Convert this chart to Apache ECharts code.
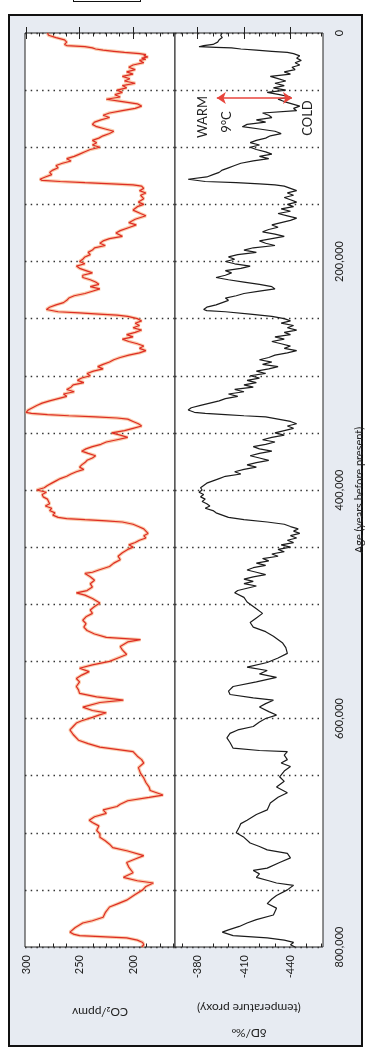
<!DOCTYPE html>
<html><head><meta charset="utf-8">
<script src="https://cdn.jsdelivr.net/npm/echarts@6/dist/echarts.min.js"></script>
<style>
html,body{margin:0;padding:0;background:#fff;}
#frame{position:absolute;left:8px;top:14px;width:351px;height:1029px;border:2.5px solid #111;background:#e7ebf2;}
#tab{position:absolute;left:73px;top:-10px;width:66px;height:10px;border:1.5px solid #111;}
#c{position:absolute;left:0;top:0;width:368px;height:1057px;}
</style>
</head><body>
<div id="frame"></div><div id="tab"></div>
<div id="c"></div>
<script>
// ---- data (age in thousand years before present) ----
const co2Series = [
[0,280],[2,279],[4,272],[6,264],[8,262],[10,264],[11,262],[12,245],[13,238],[14,235],[15,228],[16,218],[17,208],[18,194],[19,188],[20,190],[21,186],[22,192],[23,188],[24,194],[26,190],[28,200],[30,204],[32,198],[34,206],[36,200],[38,210],[40,203],[42,208],[44,198],[46,210],[48,206],[50,215],[52,210],[54,217],[56,212],[58,225],[60,210],[62,196],[64,192],[66,198],[68,210],[70,222],[72,228],[74,222],[76,230],[78,236],[80,238],[82,234],[84,226],[86,218],[88,222],[90,228],[92,232],[94,238],[96,234],[98,238],[100,231],[102,240],[104,245],[106,250],[108,255],[110,262],[112,258],[114,266],[116,272],[118,270],[120,275],[122,278],[124,276],[126,282],[128,287],[129,285],[130,268],[131,245],[132,220],[133,200],[134,192],[136,190],[138,194],[140,188],[142,193],[145,190],[148,195],[150,190],[152,196],[155,200],[158,193],[160,188],[163,198],[166,204],[168,197],[170,203],[173,212],[175,216],[178,210],[180,222],[182,228],[184,231],[186,226],[188,236],[190,238],[192,242],[194,240],[196,245],[198,247],[200,250],[202,245],[204,253],[206,250],[208,244],[210,238],[212,247],[214,247],[216,240],[218,235],[220,232],[222,240],[224,231],[226,238],[228,245],[230,255],[232,260],[234,262],[236,265],[238,272],[240,278],[242,281],[243,280],[244,270],[245,250],[246,232],[247,215],[248,205],[250,196],[252,192],[254,198],[256,194],[258,200],[260,192],[262,198],[264,206],[266,200],[268,210],[270,204],[272,196],[274,190],[276,194],[278,188],[280,194],[282,204],[284,212],[286,218],[288,222],[290,228],[292,233],[294,228],[296,237],[298,243],[300,240],[302,248],[304,252],[306,246],[308,256],[310,258],[312,262],[314,255],[316,265],[318,262],[320,270],[322,278],[324,285],[326,290],[328,294],[330,298],[332,300],[333,295],[334,280],[335,260],[336,235],[337,215],[338,205],[340,200],[342,195],[344,192],[346,200],[348,208],[350,220],[352,212],[354,205],[356,215],[358,225],[360,230],[362,238],[364,244],[366,248],[368,242],[370,235],[372,238],[374,243],[376,245],[378,248],[380,250],[382,246],[384,253],[386,258],[388,262],[390,268],[392,272],[394,276],[396,280],[398,283],[400,290],[402,281],[404,285],[406,284],[408,280],[410,279],[412,278],[414,282],[416,276],[418,278],[420,273],[422,275],[424,270],[425,262],[426,245],[427,225],[428,210],[430,200],[432,195],[434,190],[436,188],[438,186],[440,190],[442,188],[444,194],[446,198],[448,204],[450,200],[452,205],[455,210],[458,214],[461,212],[464,218],[467,222],[470,232],[472,238],[473,245],[476,240],[479,236],[482,240],[485,238],[488,243],[490,253],[492,245],[495,238],[499,231],[502,236],[505,240],[508,238],[511,244],[514,247],[517,244],[520,246],[523,243],[526,236],[529,225],[531,193],[533,205],[537,212],[540,210],[544,206],[547,214],[550,222],[553,238],[556,250],[559,241],[562,248],[565,253],[568,250],[572,253],[575,251],[578,250],[581,234],[584,209],[586,231],[590,247],[593,238],[595,225],[597,232],[599,238],[602,248],[604,253],[607,256],[610,259],[614,256],[619,251],[622,242],[625,231],[629,200],[633,196],[636,192],[639,190],[643,195],[648,193],[652,190],[656,188],[660,185],[663,184],[665,178],[667,172],[669,185],[672,205],[675,212],[677,215],[680,228],[683,225],[686,236],[689,241],[691,238],[694,232],[698,234],[701,231],[704,231],[707,226],[710,222],[713,219],[716,205],[720,190],[723,198],[726,206],[730,204],[735,200],[739,209],[742,196],[744,181],[747,188],[750,191],[754,198],[759,206],[762,214],[765,222],[770,226],[774,228],[777,238],[779,247],[783,254],[787,259],[789,255],[790,250],[792,206],[794,196],[796,191],[798,190],[800,192]
];
const deltaSeries = [
[0,-396],[2,-395],[4,-396],[6,-394],[8,-393],[10,-390],[11,-384],[12,-381],[12.5,-392],[13,-402],[14,-408],[15,-418],[16,-428],[17,-438],[18,-442],[20,-446],[22,-444],[24,-447],[26,-443],[28,-446],[30,-441],[32,-443],[34,-436],[36,-440],[38,-427],[40,-432],[42,-437],[44,-430],[46,-436],[48,-429],[50,-437],[52,-425],[54,-433],[56,-440],[58,-432],[60,-436],[62,-441],[64,-446],[66,-442],[68,-444],[70,-422],[72,-426],[74,-428],[76,-418],[78,-424],[80,-412],[82,-409],[84,-420],[86,-430],[88,-434],[90,-427],[92,-424],[94,-418],[96,-414],[98,-420],[100,-414],[102,-418],[104,-424],[106,-428],[108,-420],[110,-426],[112,-416],[114,-408],[116,-404],[118,-400],[120,-396],[122,-394],[124,-390],[126,-386],[128,-374],[129,-373],[130,-385],[131,-405],[132,-420],[133,-430],[134,-436],[136,-440],[138,-444],[140,-438],[142,-442],[144,-436],[146,-440],[148,-444],[150,-438],[152,-442],[154,-434],[156,-440],[158,-432],[160,-438],[162,-444],[164,-440],[166,-434],[168,-428],[170,-432],[172,-426],[174,-422],[176,-430],[178,-436],[180,-428],[182,-420],[184,-424],[186,-430],[188,-416],[190,-410],[192,-418],[194,-406],[196,-400],[198,-404],[200,-398],[202,-404],[204,-414],[206,-408],[208,-398],[210,-402],[212,-398],[214,-392],[216,-400],[218,-410],[220,-420],[222,-428],[224,-430],[226,-420],[228,-410],[230,-405],[232,-398],[234,-400],[236,-396],[238,-392],[240,-386],[242,-384],[243,-386],[244,-398],[246,-414],[248,-428],[250,-436],[252,-440],[254,-434],[256,-442],[258,-438],[260,-444],[262,-436],[264,-440],[266,-430],[268,-436],[270,-428],[272,-434],[274,-440],[276,-436],[278,-444],[280,-438],[282,-430],[284,-426],[286,-420],[288,-428],[290,-422],[292,-432],[294,-426],[296,-418],[298,-424],[300,-414],[302,-420],[304,-412],[306,-418],[308,-410],[310,-416],[312,-404],[314,-410],[316,-400],[318,-406],[320,-398],[322,-394],[324,-388],[326,-382],[328,-376],[330,-374],[332,-378],[333,-385],[334,-398],[335,-410],[336,-424],[338,-432],[340,-440],[342,-444],[344,-438],[346,-442],[348,-436],[350,-430],[352,-436],[354,-428],[356,-422],[358,-430],[360,-424],[362,-416],[364,-420],[366,-428],[368,-420],[370,-414],[372,-420],[374,-426],[376,-418],[378,-412],[380,-418],[382,-410],[384,-404],[386,-408],[388,-398],[390,-394],[392,-390],[394,-386],[396,-384],[398,-382],[400,-383],[402,-381],[404,-384],[406,-382],[408,-385],[410,-383],[412,-386],[414,-388],[416,-385],[418,-390],[420,-392],[422,-396],[424,-400],[426,-410],[428,-425],[430,-436],[432,-440],[434,-445],[436,-442],[438,-446],[440,-440],[442,-444],[444,-438],[446,-442],[448,-434],[450,-440],[452,-432],[454,-436],[456,-428],[458,-432],[460,-422],[462,-426],[464,-418],[466,-424],[468,-416],[470,-412],[472,-418],[474,-424],[476,-416],[478,-410],[480,-416],[482,-410],[484,-418],[486,-412],[488,-406],[490,-404],[494,-410],[498,-412],[500,-414],[504,-418],[508,-422],[512,-418],[516,-414],[520,-416],[524,-424],[528,-429],[532,-433],[534,-435],[538,-437],[543,-438],[547,-432],[551,-425],[555,-412],[558,-425],[561,-420],[564,-431],[568,-418],[572,-403],[576,-400],[579,-401],[582,-416],[584,-429],[587,-424],[590,-420],[594,-426],[597,-431],[600,-424],[603,-420],[607,-416],[610,-406],[613,-401],[617,-399],[621,-401],[626,-403],[628,-420],[629,-438],[632,-436],[636,-438],[639,-434],[642,-440],[646,-436],[651,-433],[655,-436],[660,-431],[665,-438],[669,-432],[674,-427],[680,-425],[684,-418],[689,-412],[692,-408],[695,-407],[700,-405],[704,-410],[709,-414],[712,-420],[715,-425],[718,-438],[722,-440],[726,-433],[731,-425],[733,-416],[736,-420],[739,-418],[742,-426],[744,-431],[746,-442],[750,-438],[755,-431],[758,-428],[762,-425],[766,-431],[772,-429],[776,-418],[779,-412],[782,-407],[785,-400],[787,-396],[790,-403],[792,-425],[794,-436],[796,-442],[798,-440],[800,-443]
];
const ageGridStep = 50;          // ka between dotted lines
const ageLabelStep = 200;        // ka between age labels
const co2MajorTicks = [300, 250, 200];
const co2MinorTicks = [287.5, 275, 262.5, 237.5, 225, 212.5, 187.5, 175, 162.5];
const deltaMajorTicks = [-380, -410, -440];
const deltaMinorTicks = [-370, -390, -400, -420, -430, -450, -460];
const arrowSpan = [[-392.5, 57], [-441, 57]];

// ---- chart ----
const FONT = 'Lato, "Open Sans", "DejaVu Sans", sans-serif';
const TXT = '#222';
const CO2_MIN = 160.8, CO2_MAX = 301, D_MIN = -461, D_MAX = -365.5;

function xAxisDef(grid, pos, min, max, ticks, len, extra) {
  return Object.assign({
    gridIndex: grid, type: 'value', position: pos, min: min, max: max, inverse: true,
    axisLine: {show: false}, splitLine: {show: false},
    axisTick: {show: true, inside: true, length: len, customValues: ticks, lineStyle: {color: '#222', width: 1}},
    axisLabel: {show: false}
  }, extra || {});
}
const labelStyle = {show: true, rotate: 90, margin: 8, fontSize: 11, color: TXT, fontFamily: FONT};
const nameStyle = {fontSize: 12, color: TXT, fontFamily: FONT, lineHeight: 25};

const chart = echarts.init(document.getElementById('c'));
chart.setOption({
  animation: false,
  grid: [
    {left: 25, top: 33, width: 150, height: 914, show: true, backgroundColor: '#fff', borderColor: '#222', borderWidth: 1},
    {left: 175, top: 33, width: 148, height: 914, show: true, backgroundColor: '#fff', borderColor: '#222', borderWidth: 1}
  ],
  xAxis: [
    xAxisDef(0, 'bottom', CO2_MIN, CO2_MAX, co2MajorTicks, 6, {
      axisLabel: Object.assign({customValues: co2MajorTicks}, labelStyle),
      name: 'CO\u2082/ppmv', nameLocation: 'middle', nameRotate: 180, nameGap: 52, nameTextStyle: nameStyle
    }),
    xAxisDef(0, 'top', CO2_MIN, CO2_MAX, co2MajorTicks, 6),
    xAxisDef(0, 'bottom', CO2_MIN, CO2_MAX, co2MinorTicks, 3.5),
    xAxisDef(0, 'top', CO2_MIN, CO2_MAX, co2MinorTicks, 3.5),
    xAxisDef(1, 'bottom', D_MIN, D_MAX, deltaMajorTicks, 6, {
      axisLabel: Object.assign({customValues: deltaMajorTicks}, labelStyle),
      name: '\u03b4D/\u2030\n(temperature proxy)', nameLocation: 'middle', nameRotate: 180, nameGap: 48, nameTextStyle: nameStyle
    }),
    xAxisDef(1, 'top', D_MIN, D_MAX, deltaMajorTicks, 6),
    xAxisDef(1, 'bottom', D_MIN, D_MAX, deltaMinorTicks, 3.5),
    xAxisDef(1, 'top', D_MIN, D_MAX, deltaMinorTicks, 3.5)
  ],
  yAxis: [0, 1].map(g => ({
    gridIndex: g, type: 'value', position: g === 0 ? 'left' : 'right', min: 0, max: 800, interval: ageGridStep, inverse: true,
    axisLine: {show: false}, axisTick: {show: false},
    splitLine: {show: true, lineStyle: {color: '#333', width: 1.4, type: [1.5, 4.2]}},
    axisLabel: g === 0 ? {show: false} : {
      show: true, rotate: 90, margin: 11, fontSize: 11, color: TXT, fontFamily: FONT,
      showMinLabel: true, showMaxLabel: true,
      formatter: v => (v % ageLabelStep === 0 ? (v * 1000).toLocaleString('en-US') : '')
    },
    name: g === 1 ? 'Age (years before present)' : '', nameLocation: 'middle', nameRotate: 90, nameGap: 31,
    nameTextStyle: {fontSize: 11, color: TXT, fontFamily: FONT}
  })),
  series: [
    {type: 'line', xAxisIndex: 0, yAxisIndex: 0, data: co2Series.map(p => [p[1], p[0]]), showSymbol: false, symbol: 'none',
     lineStyle: {color: 'rgba(247,172,120,0.6)', width: 3.4}, silent: true, z: 2},
    {type: 'line', xAxisIndex: 0, yAxisIndex: 0, data: co2Series.map(p => [p[1], p[0]]), showSymbol: false, symbol: 'none',
     lineStyle: {color: '#de2d24', width: 1.2}, silent: true, z: 3},
    {type: 'line', xAxisIndex: 4, yAxisIndex: 1, data: deltaSeries.map(p => [p[1], p[0]]), showSymbol: false, symbol: 'none',
     lineStyle: {color: '#1c1c1c', width: 1.2}, silent: true, z: 3,
     markLine: {silent: true, symbol: ['arrow', 'arrow'], symbolSize: 9, label: {show: false},
       lineStyle: {color: '#e8453c', width: 1.6, type: 'solid'},
       data: [[{coord: arrowSpan[0]}, {coord: arrowSpan[1]}]]}}
  ],
  graphic: [
    {type: 'text', x: 203, y: 117, rotation: Math.PI / 2, style: {text: 'WARM', font: '13px ' + FONT, fill: TXT, align: 'center', verticalAlign: 'middle'}, z: 10},
    {type: 'text', x: 227, y: 122, rotation: Math.PI / 2, style: {text: '9\u00b0C', font: '13px ' + FONT, fill: TXT, align: 'center', verticalAlign: 'middle'}, z: 10},
    {type: 'text', x: 308, y: 118, rotation: Math.PI / 2, style: {text: 'COLD', font: '13px ' + FONT, fill: TXT, align: 'center', verticalAlign: 'middle'}, z: 10}
  ]
});
</script>
</body></html>
